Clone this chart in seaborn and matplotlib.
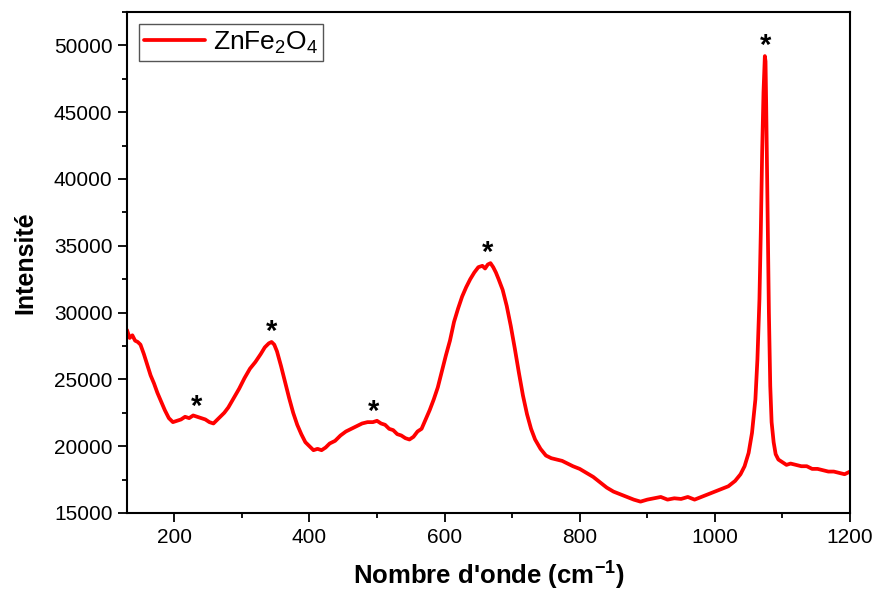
import matplotlib
matplotlib.use("Agg")
import matplotlib.pyplot as plt
from matplotlib.ticker import MultipleLocator
import seaborn as sns
import pandas as pd

# Raman spectrum of ZnFe2O4 (wavenumber in cm^-1, intensity in counts)
wavenumber = [
    130, 134, 138, 142, 146, 150, 155, 160, 165, 170, 175, 180, 186, 192, 198,
    204, 210, 216, 222, 228, 234, 240, 246, 252, 258, 262, 268, 274, 280, 288,
    296, 304, 312, 320, 328, 334, 340, 344, 348, 352, 358, 364, 370, 376, 382,
    388, 394, 400, 406, 412, 418, 424, 430, 438, 446, 454, 462, 470, 478, 486,
    494, 500, 506, 512, 518, 524, 530, 536, 542, 548, 554, 560, 566, 572, 578,
    584, 590, 596, 602, 608, 614, 620, 626, 632, 638, 644, 650, 656, 660, 664,
    668, 672, 676, 680, 686, 692, 698, 704, 710, 716, 722, 728, 734, 742, 750,
    758, 766, 774, 782, 790, 800, 810, 820, 830, 840, 850, 860, 870, 880, 890,
    900, 910, 920, 930, 940, 950, 960, 970, 980, 990, 1000, 1010, 1020, 1030,
    1038, 1044, 1050, 1055, 1060, 1063, 1066, 1068, 1070, 1072, 1074, 1075,
    1076, 1078, 1080, 1082, 1084, 1087, 1090, 1094, 1100, 1106, 1112, 1120,
    1128, 1136, 1144, 1152, 1160, 1168, 1176, 1184, 1192, 1200,
]
intensity = [
    28700, 28100, 28300, 27900, 27800, 27600, 26900, 26100, 25300, 24700, 24000,
    23400, 22700, 22100, 21800, 21900, 22000, 22200, 22100, 22300, 22200, 22100,
    22000, 21800, 21700, 21900, 22200, 22500, 22900, 23600, 24300, 25100, 25800,
    26300, 26900, 27400, 27700, 27800, 27600, 27100, 26000, 24800, 23600, 22500,
    21600, 20900, 20300, 20000, 19700, 19800, 19700, 19900, 20200, 20400, 20800,
    21100, 21300, 21500, 21700, 21800, 21800, 21900, 21700, 21600, 21300, 21200,
    20900, 20800, 20600, 20500, 20700, 21100, 21300, 22000, 22700, 23500, 24400,
    25600, 26800, 27900, 29300, 30300, 31200, 31900, 32500, 33000, 33400, 33500,
    33300, 33600, 33700, 33400, 33000, 32500, 31700, 30500, 29000, 27300, 25500,
    23800, 22400, 21300, 20500, 19800, 19300, 19100, 19000, 18900, 18700, 18500,
    18300, 18000, 17700, 17300, 16900, 16600, 16400, 16200, 16000, 15850, 16000,
    16100, 16200, 16000, 16100, 16050, 16200, 16000, 16200, 16400, 16600, 16800,
    17000, 17400, 17900, 18500, 19500, 21000, 23500, 26500, 31000, 36000, 42000,
    46500, 49200, 48800, 45500, 38000, 30000, 24500, 21800, 20300, 19400, 19000,
    18800, 18600, 18700, 18600, 18500, 18500, 18300, 18300, 18200, 18100, 18100,
    18000, 17900, 18100,
]

# Positions of the marked Raman bands
band_x = [233, 344, 495, 663, 1075]
band_y = [22200, 27800, 21800, 33700, 49200]

sns.set_style("ticks")
plt.rcParams["font.family"] = ["Liberation Sans", "DejaVu Sans"]
plt.rcParams["mathtext.fontset"] = "custom"
plt.rcParams["mathtext.rm"] = "Liberation Sans"
plt.rcParams["mathtext.bf"] = "Liberation Sans:bold"
plt.rcParams["text.color"] = "black"
plt.rcParams["axes.labelcolor"] = "black"
plt.rcParams["xtick.color"] = "black"
plt.rcParams["ytick.color"] = "black"

df = pd.DataFrame({"Nombre d'onde": wavenumber, "Intensité": intensity})

fig = plt.figure(figsize=(8.78, 5.94), dpi=100)
ax = fig.add_axes([0.1446, 0.1364, 0.8235, 0.8434])

sns.lineplot(data=df, x="Nombre d'onde", y="Intensité", ax=ax,
             color="#ff0000", linewidth=2.7, label="ZnFe$_2$O$_4$",
             sort=False)

for bx, by in zip(band_x, band_y):
    ax.annotate("*", xy=(bx, by), xytext=(0, -3), textcoords="offset points",
                ha="center", va="bottom", fontsize=21, fontweight="bold",
                color="black")

ax.set_xlim(130, 1200)
ax.set_ylim(15000, 52500)
ax.xaxis.set_major_locator(MultipleLocator(200))
ax.xaxis.set_minor_locator(MultipleLocator(100))
ax.yaxis.set_major_locator(MultipleLocator(5000))
ax.yaxis.set_minor_locator(MultipleLocator(2500))
ax.tick_params(axis="both", which="major", direction="out", length=6.5,
               width=1.3, labelsize=15, pad=4)
ax.tick_params(axis="both", which="minor", direction="out", length=3.5,
               width=1.3)
ax.tick_params(top=False, right=False)
for side in ax.spines.values():
    side.set_visible(True)
    side.set_linewidth(1.5)
    side.set_color("black")

ax.set_xlabel("Nombre d'onde (cm$^{\\mathbf{-1}}$)", fontsize=18.5,
              fontweight="bold", labelpad=8)
ax.set_ylabel("Intensité", fontsize=18, fontweight="bold", labelpad=12)

leg = ax.legend(loc="upper left", fontsize=19, frameon=True, fancybox=False,
                edgecolor="#555555", framealpha=1, handlelength=2.3,
                borderpad=0.2, borderaxespad=0.45, handletextpad=0.3)
leg.get_frame().set_linewidth(1.0)

fig.savefig("out.png", dpi=100, facecolor="white")
